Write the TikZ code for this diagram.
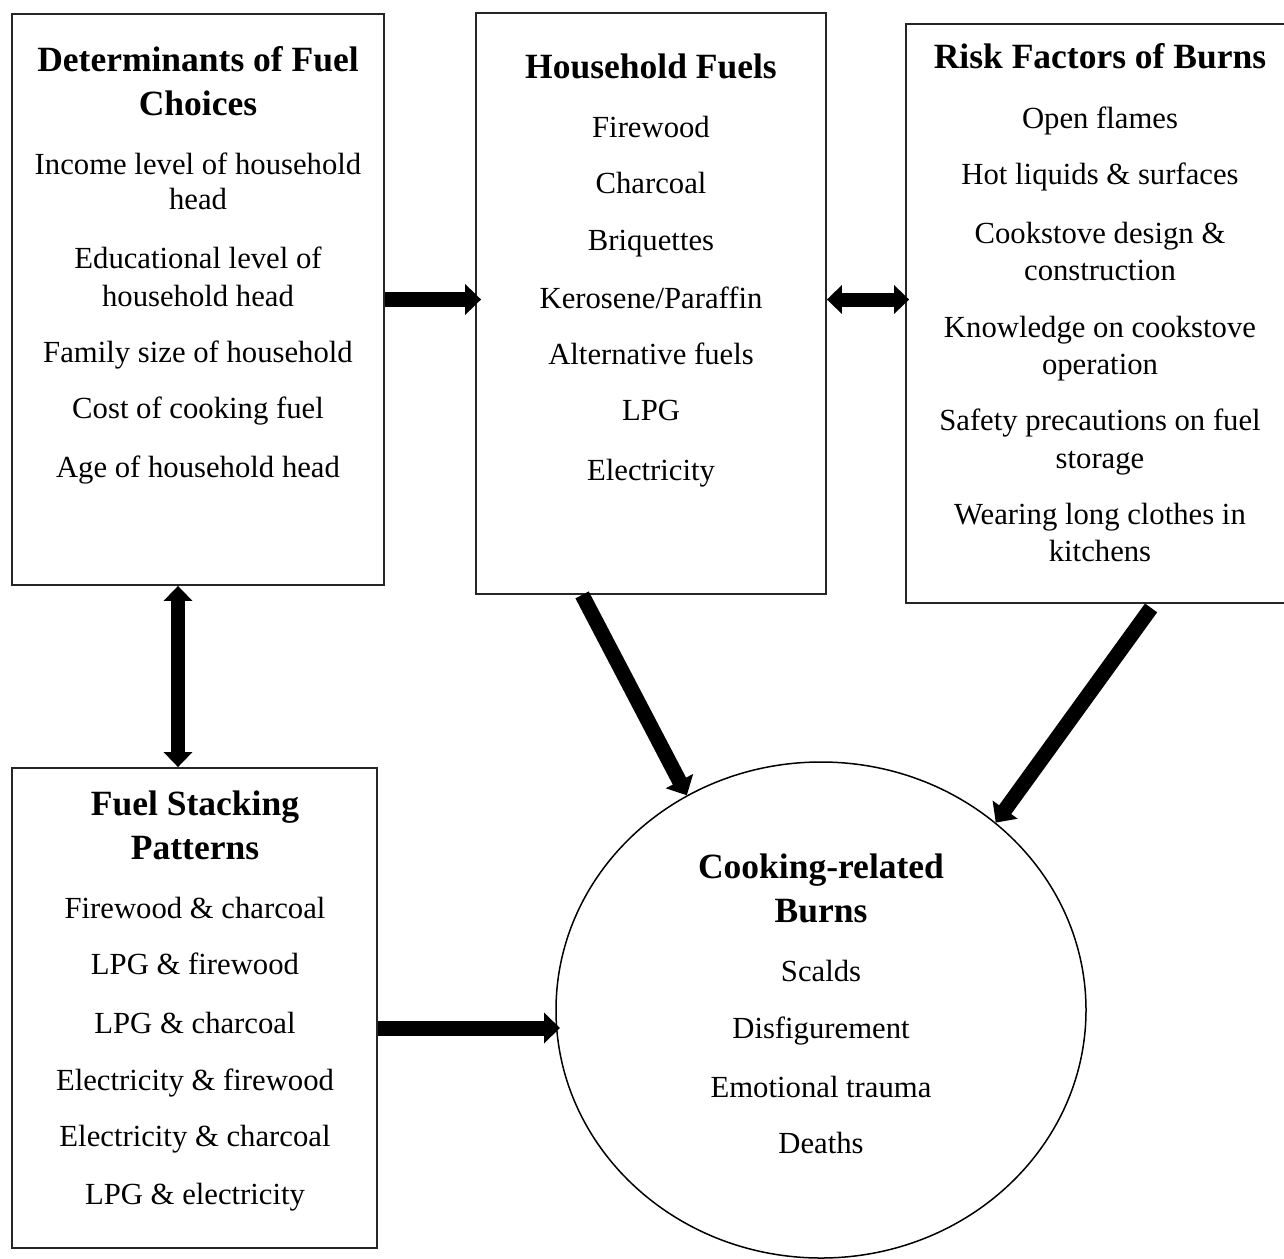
\documentclass[tikz,border=0pt]{standalone}
\usepackage{fontspec}
\setmainfont{Liberation Serif}
\usetikzlibrary{arrows.meta,shapes.geometric}
\begin{document}
\begin{tikzpicture}[x=1pt,y=-1pt,
  box/.style={draw=black!85,line width=1.8pt,rectangle,inner sep=0pt},
  circ/.style={draw=black,line width=1.5pt,ellipse,inner sep=0pt,minimum width=530pt,minimum height=496pt},
  body/.style={font=\fontsize{30.7}{35}\selectfont,anchor=base,inner sep=0pt},
  ttl/.style={font=\fontsize{35.5}{42}\selectfont\bfseries,anchor=base,inner sep=0pt},
  arr/.style={line width=15pt,-{Triangle[length=16pt,width=30pt]}},
  darr/.style={line width=14pt,{Triangle[length=15pt,width=28pt]}-{Triangle[length=15pt,width=28pt]}}]
\useasboundingbox (0,0) rectangle (1284,1258);
\fill[white] (0,0) rectangle (1284,1258);
% boxes
\node[box,minimum width=372pt,minimum height=571pt] (b1) at (198,299.5) {};
\node[box,minimum width=350pt,minimum height=581pt] (b2) at (651,303.5) {};
\node[box,minimum width=388pt,minimum height=579pt] (b3) at (1100,313.5) {};
\node[box,minimum width=365pt,minimum height=480pt] (b4) at (194.5,1008) {};
\node[circ] (cb) at (821,1010) {};
% box 1
\node[ttl] (t1a) at (198,71) {Determinants of Fuel};
\node[ttl] (t1b) at (198,115) {Choices};
\node[body] (t1c) at (198,174) {Income level of household};
\node[body] (t1d) at (198,209) {head};
\node[body] (t1e) at (198,268) {Educational level of};
\node[body] (t1f) at (198,306) {household head};
\node[body] (t1g) at (198,362) {Family size of household};
\node[body] (t1h) at (198,418) {Cost of cooking fuel};
\node[body] (t1i) at (198,477) {Age of household head};
% box 2
\node[ttl] (t2a) at (651,78) {Household Fuels};
\node[body] (t2b) at (651,137) {Firewood};
\node[body] (t2c) at (651,193) {Charcoal};
\node[body] (t2d) at (651,250) {Briquettes};
\node[body] (t2e) at (651,308) {Kerosene/Paraffin};
\node[body] (t2f) at (651,364) {Alternative fuels};
\node[body] (t2g) at (651,420) {LPG};
\node[body] (t2h) at (651,480) {Electricity};
% box 3
\node[ttl] (t3a) at (1100,68) {Risk Factors of Burns};
\node[body] (t3b) at (1100,128) {Open flames};
\node[body] (t3c) at (1100,184) {Hot liquids \& surfaces};
\node[body] (t3d) at (1100,243) {Cookstove design \&};
\node[body] (t3e) at (1100,280) {construction};
\node[body] (t3f) at (1100,337) {Knowledge on cookstove};
\node[body] (t3g) at (1100,374) {operation};
\node[body] (t3h) at (1100,430) {Safety precautions on fuel};
\node[body] (t3i) at (1100,468) {storage};
\node[body] (t3j) at (1100,524) {Wearing long clothes in};
\node[body] (t3k) at (1100,561) {kitchens};
% box 4
\node[ttl] (t4a) at (195,815) {Fuel Stacking};
\node[ttl] (t4b) at (195,859) {Patterns};
\node[body] (t4c) at (195,918) {Firewood \& charcoal};
\node[body] (t4d) at (195,974) {LPG \& firewood};
\node[body] (t4e) at (195,1033) {LPG \& charcoal};
\node[body] (t4f) at (195,1090) {Electricity \& firewood};
\node[body] (t4g) at (195,1146) {Electricity \& charcoal};
\node[body] (t4h) at (195,1204) {LPG \& electricity};
% circle
\node[ttl] (t5a) at (821,878) {Cooking-related};
\node[ttl] (t5b) at (821,922) {Burns};
\node[body] (t5c) at (821,981) {Scalds};
\node[body] (t5d) at (821,1038) {Disfigurement};
\node[body] (t5e) at (821,1097) {Emotional trauma};
\node[body] (t5f) at (821,1153) {Deaths};
% arrows
\coordinate (c4) at (560,1028);
\draw[arr] (b1.east) -- ([xshift=6pt]b2.west |- b1.east);
\draw[darr] (b2.east |- b1.east) -- ([xshift=4pt]b3.west |- b1.east);
\draw[darr] ([xshift=-20pt]b1.south) -- ([xshift=-16.5pt]b4.north);
\draw[arr] ([xshift=107pt]b2.south west) -- (cb.122);
\draw[arr] ([xshift=246pt,yshift=-4pt]b3.south west) -- (cb.47);
\draw[arr] (b4.east |- c4) -- (c4);
\end{tikzpicture}
\end{document}
